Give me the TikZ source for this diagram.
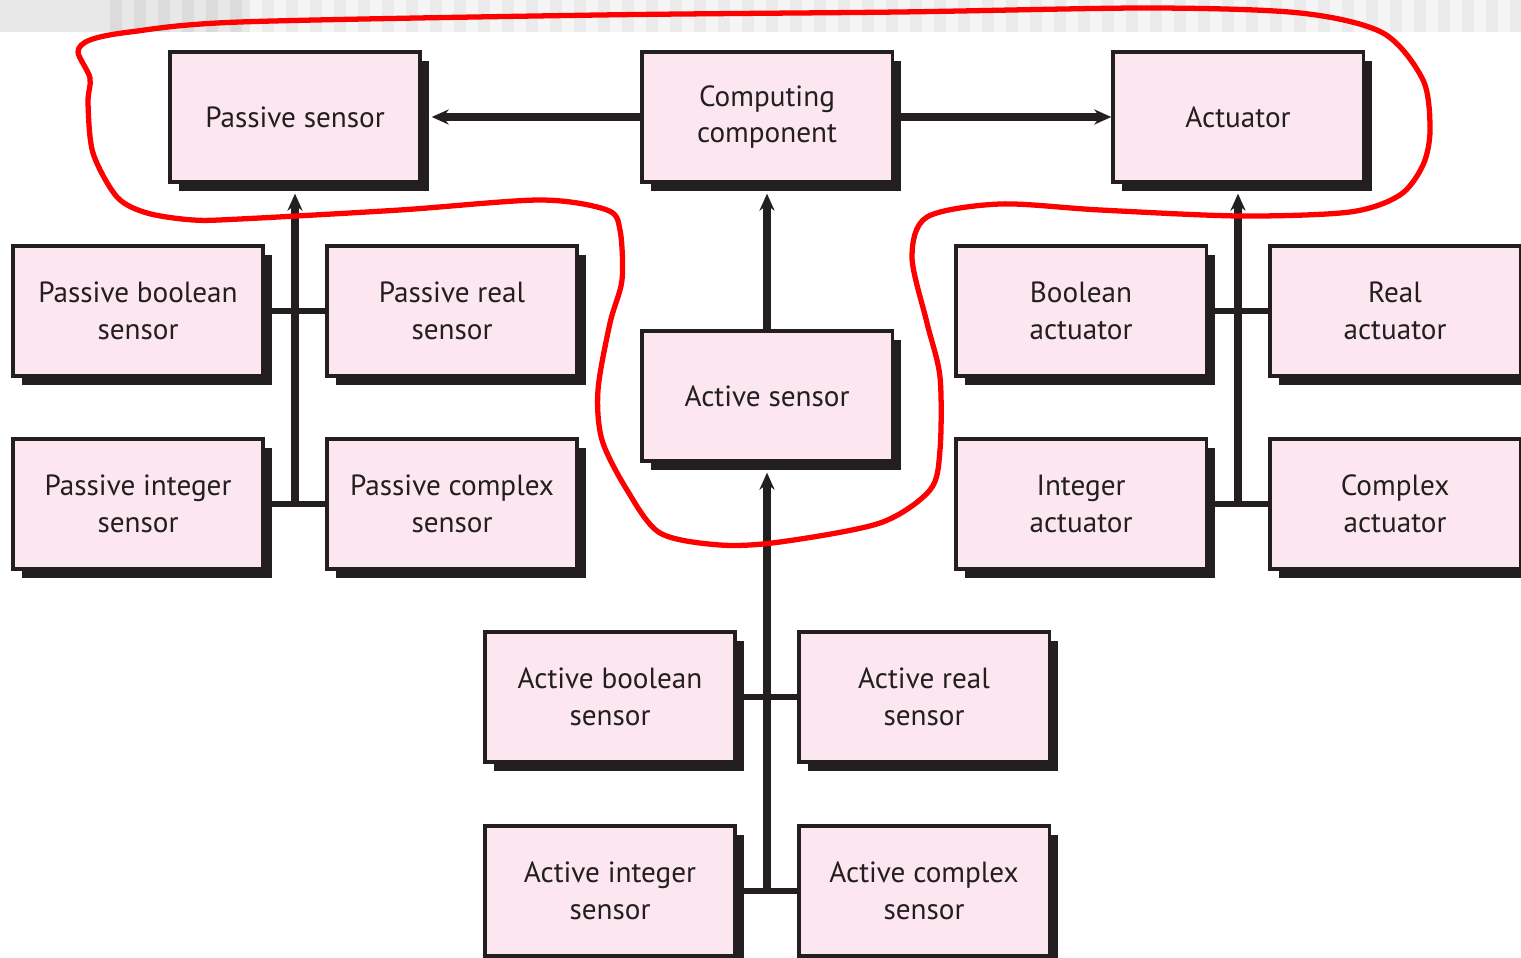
\documentclass[tikz,border=0pt]{standalone}
\usepackage{fontspec}
\setmainfont{PT Sans}
\usetikzlibrary{positioning}
\usetikzlibrary{shadows}
\usetikzlibrary{arrows.meta}

\definecolor{ink}{HTML}{231F20}
\definecolor{blush}{HTML}{FCE6EF}

\tikzset{
  unit/.style={draw=ink, line width=0.9pt, fill=blush, text=ink,
    minimum width=2.5cm, minimum height=1.3cm, align=center,
    font=\fontsize{8.3}{10.5}\selectfont,
    drop shadow={shadow xshift=0.09cm, shadow yshift=-0.09cm, fill=ink, opacity=1}},
  feed/.style={draw=ink, line width=2pt, -{Stealth[length=0.17cm,width=0.15cm]}},
  tap/.style={draw=ink, line width=1.7pt},
  hull/.style={draw=red, line width=1.5pt},
}

\begin{document}
\begin{tikzpicture}[x=0.01cm, y=-0.01cm]
	\useasboundingbox (0,0) rectangle (1521,958);
	% grey band along the top edge
	\fill[black!9] (0,0) rectangle (250,32);
	\foreach \x in {110,134,...,230}
		\fill[black!14] (\x,0) rectangle +(12,32);
	\fill[black!4] (250,0) rectangle (1521,32);
	\foreach \x in {262,286,...,1510}
		\fill[black!8] (\x,0) rectangle +(12,32);

	% top row
	\node[unit] (psens) at (295,117) {Passive sensor};
	\node[unit] (comp) at (767,117) {Computing\\component};
	\node[unit] (act) at (1238,117) {Actuator};

	% passive sensors
	\node[unit] (pbool) at (138,311) {Passive boolean\\sensor};
	\node[unit] (preal) at (452,311) {Passive real\\sensor};
	\node[unit] (pint) at (138,504) {Passive integer\\sensor};
	\node[unit] (pcplx) at (452,504) {Passive complex\\sensor};

	\node[unit] (asens) at (767,396) {Active sensor};

	% actuators
	\node[unit] (bact) at (1081,311) {Boolean\\actuator};
	\node[unit] (ract) at (1395,311) {Real\\actuator};
	\node[unit] (iact) at (1081,504) {Integer\\actuator};
	\node[unit] (cact) at (1395,504) {Complex\\actuator};

	% active sensors
	\node[unit] (abool) at (610,697) {Active boolean\\sensor};
	\node[unit] (areal) at (924,697) {Active real\\sensor};
	\node[unit] (aint) at (610,891) {Active integer\\sensor};
	\node[unit] (acplx) at (924,891) {Active complex\\sensor};

	\draw[feed] (comp.west) -- ([xshift=0.1cm]psens.east);
	\draw[feed] (comp.east) -- (act.west);
	\draw[feed] (asens.north) -- ([yshift=-0.1cm]comp.south);

	\draw[feed] (psens.south |- pint.east) -- ([yshift=-0.1cm]psens.south);
	\draw[tap] (pbool) -- (preal);
	\draw[tap] (pint) -- (pcplx);

	\draw[feed] (act.south |- iact.east) -- ([yshift=-0.1cm]act.south);
	\draw[tap] (bact) -- (ract);
	\draw[tap] (iact) -- (cact);

	\draw[feed] (asens.south |- aint.east) -- ([yshift=-0.1cm]asens.south);
	\draw[tap] (abool) -- (areal);
	\draw[tap] (aint) -- (acplx);

	% outline round the top row and the active sensor
	\draw[hull] plot[smooth cycle, tension=0.5] coordinates {
		(240,22) (600,15) (900,12) (1150,8) (1300,13) (1383,33) (1423,80)
		(1430,130) (1423,165) (1400,195) (1350,212) (1240,216) (1100,210)
		(1000,204) (927,217) (912,257) (927,323) (940,377) (940,450)
		(930,490) (880,523) (780,542) (720,545) (660,533) (627,490)
		(602,440) (598,390) (610,323) (622,280) (620,230) (607,210)
		(540,200) (400,210) (240,219) (193,220) (147,213) (117,197)
		(93,153) (88,103) (90,78) (78,52) (90,40) (130,32)};
\end{tikzpicture}
\end{document}
